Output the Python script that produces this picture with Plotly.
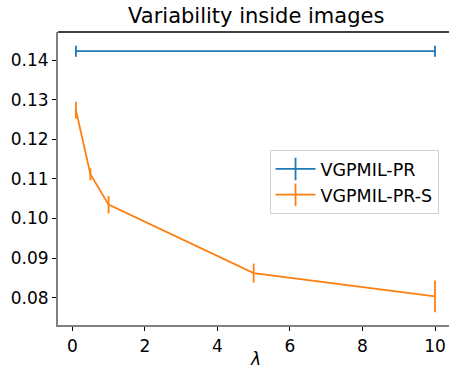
import plotly.graph_objects as go

lam_pr = [0.1, 10]
val_pr = [0.1423, 0.1423]
err_pr = [0.0014, 0.0014]

lam_prs = [0.1, 0.5, 1, 5, 10]
val_prs = [0.1274, 0.1112, 0.1035, 0.0862, 0.0803]
err_prs = [0.0021, 0.0015, 0.0022, 0.0024, 0.0040]

blue = "#1f77b4"
orange = "#ff7f0e"
font = "DejaVu Sans"

fig = go.Figure()
fig.add_trace(go.Scatter(x=lam_pr, y=val_pr, mode="lines", line=dict(color=blue, width=1.8),
                         error_y=dict(type="data", array=err_pr, color=blue, thickness=1.8, width=0),
                         showlegend=False))
fig.add_trace(go.Scatter(x=lam_prs, y=val_prs, mode="lines", line=dict(color=orange, width=1.8),
                         error_y=dict(type="data", array=err_prs, color=orange, thickness=1.8, width=0),
                         showlegend=False))
# legend entries (line with vertical error-bar glyph)
for name, c in [("VGPMIL-PR", blue), ("VGPMIL-PR-S", orange)]:
    fig.add_trace(go.Scatter(x=[None], y=[None], mode="lines+markers", name=name,
                             line=dict(color=c, width=1.8),
                             marker=dict(symbol="line-ns-open", size=16, line=dict(color=c, width=1.8))))

fig.update_layout(
    width=449, height=369,
    margin=dict(l=58, r=0, t=32, b=44),
    paper_bgcolor="white", plot_bgcolor="white",
    font=dict(family=font, size=17, color="black"),
    title=dict(text="Variability inside images", x=0.507, xref="paper", xanchor="center",
               y=1 - 16 / 369, yref="container", yanchor="middle", font=dict(size=21)),
    legend=dict(x=0.541, y=0.597, xanchor="left", yanchor="top", bgcolor="white",
                bordercolor="#d0d0d0", borderwidth=1, font=dict(size=17.5),
                tracegroupgap=0, itemwidth=40),
    xaxis=dict(range=[-0.394, 10.386], tickvals=[0, 2, 4, 6, 8, 10], showgrid=False, zeroline=False,
               showline=True, linecolor="#808080", linewidth=2, ticks="outside", ticklen=4,
               tickcolor="black", tickwidth=1.2, ticklabelstandoff=1, automargin=False),
    yaxis=dict(range=[0.07308, 0.14715], tickvals=[0.08, 0.09, 0.10, 0.11, 0.12, 0.13, 0.14],
               tickformat=".2f", showgrid=False, zeroline=False, automargin=False,
               showline=True, linecolor="#808080", linewidth=2, ticks="outside", ticklen=4,
               tickcolor="black", tickwidth=1.2),
    shapes=[dict(type="line", xref="paper", yref="paper", x0=0, x1=1, y0=1, y1=1,
                 line=dict(color="black", width=1.3))],
    annotations=[dict(text="<i>λ</i>", xref="paper", yref="paper", x=(255 - 58) / 391,
                      y=-(359 - 325) / 293, xanchor="center", yanchor="middle",
                      showarrow=False, font=dict(size=17))],
)

fig.write_html("out.html")
